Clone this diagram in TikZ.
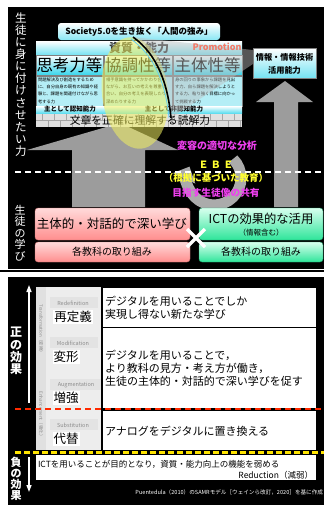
\documentclass[tikz,border=0pt]{standalone}
\usepackage{fontspec}
\setmainfont{Noto Sans CJK JP}
\usetikzlibrary{arrows.meta}
\newcommand{\myfs}[2]{\fontsize{#1}{#2}\selectfont}
\definecolor{agray}{HTML}{9C9C9C}
\definecolor{cgray}{HTML}{ABABAB}
\definecolor{cyanD}{HTML}{38D6EC}
\definecolor{cyanL}{HTML}{B4EEF6}
\definecolor{pinkT}{HTML}{FFDADA}
\definecolor{pinkB}{HTML}{FF8E8E}
\definecolor{greenT}{HTML}{D8FFEE}
\definecolor{greenB}{HTML}{2EE59A}
\definecolor{mag}{HTML}{F040F0}
\definecolor{yel}{HTML}{FFFF30}
\definecolor{salmon}{HTML}{F27A68}
\definecolor{redd}{HTML}{FF2A00}
\definecolor{yeld}{HTML}{FFE400}
\definecolor{ellcol}{HTML}{F2F060}
\tikzset{
  every node/.style={inner sep=0pt,outer sep=0pt},
  cyanbox/.style={top color=white,bottom color=cyanD,draw=black!50,line width=0.3},
  descbox/.style={fill=cyanL,draw=black!50,line width=0.3},
  desctext/.style={font=\myfs{4.3}{7.3},align=left,anchor=north west},
  pinkbox/.style={top color=pinkT,bottom color=pinkB,draw=pinkB!80!black,line width=0.4,rounded corners=3},
  greenbox/.style={top color=greenT,bottom color=greenB,draw=greenB!70!black,line width=0.4,rounded corners=3},
  vtext/.style={text=white,align=center},
  brick/.style={draw=black!35,line width=0.35},
  whitebox/.style={fill=white,draw=black,line width=0.8},
  engl/.style={text=black!45,font=\myfs{5.5}{6}},
  samr/.style={fill=white,font=\myfs{12.5}{13},inner sep=1pt},
  btext/.style={font=\myfs{11}{13},align=left,anchor=west},
  whitearrow/.style={draw=white,line width=1.3,-{Triangle[width=5pt,length=7pt]}}
}
\begin{document}
\begin{tikzpicture}[x=1pt,y=-1pt]
\useasboundingbox (0,0) rectangle (324,507);
\fill[white] (0,0) rectangle (324,507);
% ===== top panel =====
\fill[black] (8,7) rectangle (324,269);
\draw[black,line width=1.5] (0,271) -- (324,271);
% gray arrows
\fill[agray] (72,207) -- (72,150) -- (27,150) -- (120,123) -- (178,150) -- (145,150) -- (145,207) -- cycle;
\fill[agray] (274,207) -- (274,102) -- (256,102) -- (285,81) -- (313,102) -- (298,102) -- (298,207) -- cycle;
% circular arrow
\draw[cgray,line width=11,-{Triangle[width=24pt,length=13pt]}] (233.1,158.9) arc[start angle=45,end angle=-205,radius=27pt];
% society box
\shade[top color=white,bottom color=cyanD!60,rounded corners=3] (58,23) rectangle (220,40);
\node[font=\bfseries\myfs{8.5}{9}] (soc) at (139,32) {Society5.0を生き抜く「人間の強み」};
% bar
\shade[top color=white,bottom color=cyanD!70] (36,41) rectangle (242,55);
% three boxes
\draw[cyanbox] (36,55) rectangle (103,75);
\draw[cyanbox] (104,55) rectangle (172,75);
\draw[cyanbox] (173,55) rectangle (242,75);
\draw[descbox] (36,76) rectangle (103,106);
\draw[descbox] (104,76) rectangle (172,106);
\draw[descbox] (173,76) rectangle (242,106);
\shade[top color=white,bottom color=cyanD!80] (36,106) rectangle (242,113);
% brick bar
\fill[black!12] (36,114) rectangle (242,127);
\draw[brick] (36,120.5) -- (242,120.5);
\foreach \x in {42,54,...,240} \draw[brick] (\x,114) -- (\x,120.5);
\foreach \x in {48,60,...,240} \draw[brick] (\x,120.5) -- (\x,127);
% texts of top boxes
\node[font=\bfseries\myfs{12}{12},text=black!80] (shishitsu) at (139,48) {資質・能力};
\node[font=\myfs{16.5}{17}] (shiko) at (69.5,65) {思考力等};
\node[font=\myfs{16.5}{17}] (kyocho) at (138,65) {協調性等};
\node[font=\myfs{16.5}{17}] (shutai) at (207.5,65) {主体性等};
\node[desctext] (d1) at (38,77.5) {問題解決及び創造をするため\\に、自分自身の既有の知識や経\\験と、課題を関連付けながら思\\考する力};
\node[desctext] (d2) at (106,77.5) {相手意識を持ってかかわり合い\\ながら、お互いの考えを尊重し\\合い、自分の考えを表現したり\\深めたりする力};
\node[desctext] (d3) at (175,77.5) {身の回りの事象から課題を見出\\す力、自ら課題を解決しようと\\する力、粘り強く目標に向かっ\\て挑戦する力};
\node[font=\bfseries\myfs{6.5}{7}] (ninchi) at (70,109.5) {主として認知能力};
\node[font=\bfseries\myfs{6.5}{7}] (hininchi) at (174,109.5) {主として非認知能力};
\node[font=\myfs{10.8}{11}] (dokkai) at (140,120.5) {文章を正確に理解する読解力};
% ellipse
\fill[ellcol,opacity=0.55,rotate around={7:(135,93)}] (135,93) ellipse [x radius=33,y radius=56];
% cone
\fill[white!75!black,opacity=0.45] (253,50) -- (133,37) .. controls (158,55) and (168,85) .. (171,118) -- (253,64) -- cycle;
\draw[cyan!60,line width=0.8] (131,39) .. controls (156,57) and (166,86) .. (169,118);
\draw[black,line width=1.6] (133,37) .. controls (158,55) and (168,85) .. (171,118);
\node[font=\bfseries\myfs{9}{9},text=salmon] (promo) at (217,47) {Promotion};
% info box
\shade[top color=white,bottom color=cyanD!70] (253,48) rectangle (316,78);
\draw[black!50,line width=0.3] (253,48) rectangle (316,78);
\node[font=\bfseries\myfs{8.2}{9}] (joho1) at (284.5,57) {情報・情報技術};
\node[font=\bfseries\myfs{8.2}{9}] (joho2) at (284.5,70) {活用能力};
% vertical texts
\node[vtext,font=\myfs{11.5}{12.1}] (vt1) at (21,84.5) {生\\徒\\に\\身\\に\\付\\け\\さ\\せ\\た\\い\\力};
% dashed line
\draw[white,line width=1.5,dash pattern=on 6pt off 4pt] (15,172) -- (324,172);
% EBE texts
\node[font=\bfseries\myfs{10}{10},text=mag] (henyo) at (217,146) {変容の適切な分析};
\node[font=\bfseries\myfs{10}{10},text=yel] (ebe) at (216,165) {Ｅ Ｂ Ｅ};
\node[font=\bfseries\myfs{9.5}{10},text=yel] (konkyo) at (216,178) {（根拠に基づいた教育）};
\node[font=\bfseries\myfs{9.7}{10},text=mag] (mezasu) at (216,193) {目指す生徒像の共有};
% bottom boxes
\draw[pinkbox] (35,208) rectangle (190,240);
\draw[pinkbox] (35,242) rectangle (190,262);
\draw[greenbox] (199,208) rectangle (323,240);
\draw[greenbox] (199,242) rectangle (323,262);
\node[font=\myfs{12.5}{13}] (fukai) at (112,224) {主体的・対話的で深い学び};
\node[font=\myfs{10}{10}] (kyoka1) at (112,252) {各教科の取り組み};
\node[font=\myfs{12.3}{13}] (ict) at (261,219) {ICTの効果的な活用};
\node[font=\myfs{7.5}{8}] (johofukumu) at (261,233) {（情報含む）};
\node[font=\myfs{10}{10}] (kyoka2) at (261,252) {各教科の取り組み};
\node[vtext,font=\myfs{11}{11.5}] (vt2) at (20,233) {生\\徒\\の\\学\\び};
\coordinate (xa) at (187,229); \coordinate (xb) at (205,247);
\coordinate (xc) at (205,229); \coordinate (xd) at (187,247);
\draw[white,line width=3.5] (xa) -- (xb);
\draw[white,line width=3.5] (xc) -- (xd);
% ===== bottom panel =====
\fill[black] (8,277) rectangle (324,505);
\fill[black!7] (36,287) rectangle (101,450);
\fill[black!12] (36,287) rectangle (46,450);
\fill[black!11] (50,297) rectangle (98,308);
\fill[black!11] (50,337) rectangle (98,348);
\fill[black!11] (50,379) rectangle (101,390);
\fill[black!11] (50,419) rectangle (98,430);
\node[rotate=-90,text=black!45,font=\myfs{4.5}{5}] (tr) at (41,330) {Transformation（変換）};
\node[rotate=-90,text=black!45,font=\myfs{4.5}{5}] (en) at (41,415) {Enhancement（強化）};
\node[engl] (redef) at (73,303) {Redefinition};
\node[samr] (saitei) at (73,317) {再定義};
\node[engl] (modif) at (73,343) {Modification};
\node[samr] (henkei) at (66,357) {変形};
\node[engl] (augm) at (76,385) {Augmentation};
\node[samr] (zokyo) at (66,398) {増強};
\node[engl] (subst) at (73,425) {Substitution};
\node[samr] (daitai) at (66,439) {代替};
\draw[whitebox] (102,287) rectangle (316,327);
\draw[whitebox] (102,327) rectangle (316,408);
\draw[whitebox] (102,410) rectangle (316,450);
\node[btext] (t1) at (105,307.5) {デジタルを用いることでしか\\実現し得ない新たな学び};
\node[btext] (t2) at (105,368.5) {デジタルを用いることで，\\より教科の見方・考え方が働き，\\生徒の主体的・対話的で深い学びを促す};
\node[btext] (t3) at (105,431) {アナログをデジタルに置き換える};
\draw[redd,line width=2,dash pattern=on 6pt off 4pt] (15,408.5) -- (324,408.5);
\draw[yeld,line width=2.5,dash pattern=on 6pt off 3pt] (15,452.5) -- (324,452.5);
\fill[white] (36,455) rectangle (316,480);
\node[font=\myfs{8.5}{9},anchor=west] (red1) at (38,464) {ICTを用いることが目的となり，資質・能力向上の機能を弱める};
\node[font=\myfs{8.5}{9},anchor=east] (red2) at (313,475) {Reduction（減弱）};
\coordinate (up0) at (29,403); \coordinate (up1) at (29,285);
\coordinate (dn0) at (29,457); \coordinate (dn1) at (29,492);
\draw[whitearrow] (up0) -- (up1);
\draw[whitearrow] (dn0) -- (dn1);
\node[vtext,font=\bfseries\myfs{12}{12.2}] (sei) at (16,351) {正\\の\\効\\果};
\node[vtext,font=\bfseries\myfs{11}{11.2}] (fu) at (16,479) {負\\の\\効\\果};
\node[text=white,font=\myfs{5.6}{6},anchor=east] (cap) at (323,492) {Puentedula（2010）のSAMRモデル［ウェインら改訂，2020］を基に作成};
\end{tikzpicture}
\end{document}
